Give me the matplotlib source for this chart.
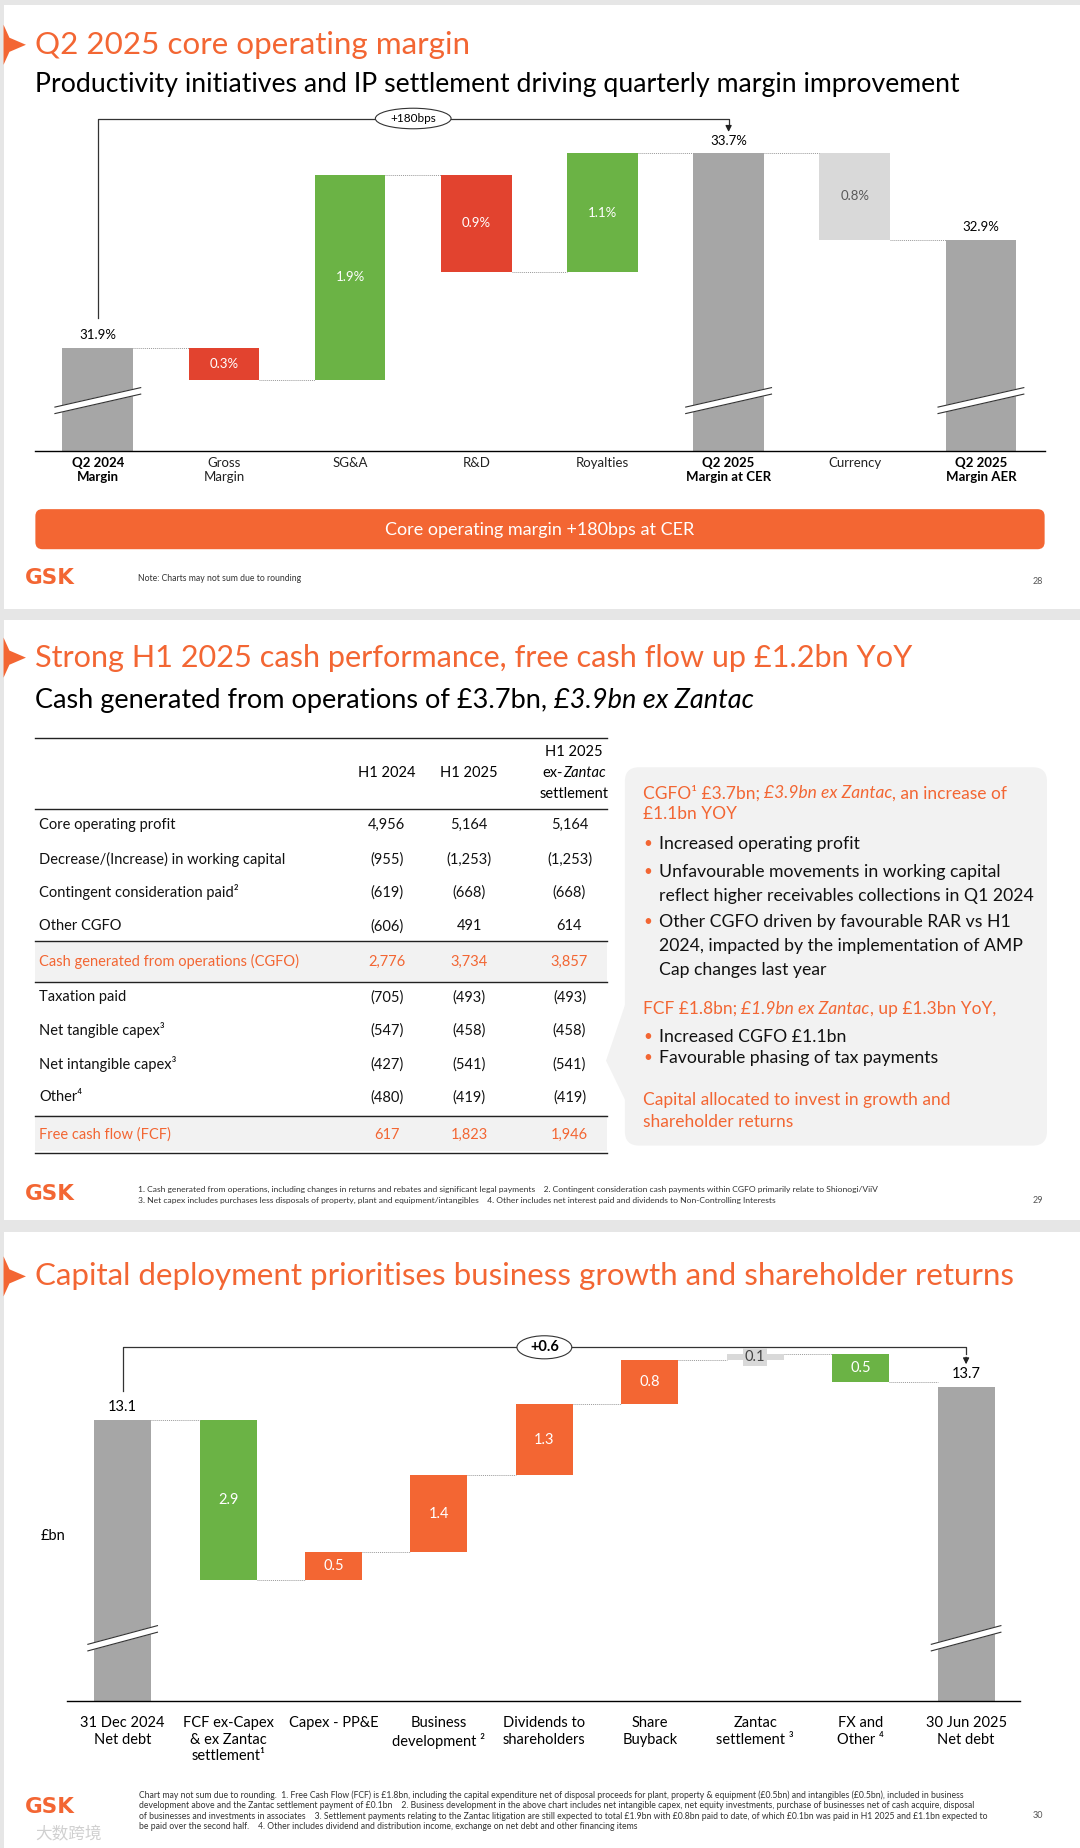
import matplotlib
matplotlib.use('Agg')
import matplotlib.pyplot as plt
from matplotlib.patches import Rectangle, FancyBboxPatch, Ellipse, Polygon
import numpy as np

plt.rcParams['font.family'] = ['Lato', 'DejaVu Sans']

# colores
NARANJA = '#F36633'
VERDE = '#6BB345'
ROJO = '#E2432F'
GRIS = '#A6A6A6'
GRIS_CLARO = '#D9D9D9'
FONDO = '#E6E6E6'

# Datos diapositiva 1: margen operativo
cats1 = ['Q2 2024\nMargin', 'Gross\nMargin', 'SG&A', 'R&D', 'Royalties',
         'Q2 2025\nMargin at CER', 'Currency', 'Q2 2025\nMargin AER']
vals1 = [31.9, -0.3, 1.9, -0.9, 1.1, 33.7, -0.8, 32.9]
tipo1 = ['total', 'neg', 'pos', 'neg', 'pos', 'total', 'fx', 'total']

# Datos diapositiva 2: tabla de caja
filas = ['Core operating profit', 'Decrease/(Increase) in working capital',
         'Contingent consideration paid²', 'Other CGFO',
         'Cash generated from operations (CGFO)', 'Taxation paid',
         'Net tangible capex³', 'Net intangible capex³', 'Other⁴',
         'Free cash flow (FCF)']
h1_2024 = ['4,956', '(955)', '(619)', '(606)', '2,776', '(705)', '(547)', '(427)', '(480)', '617']
h1_2025 = ['5,164', '(1,253)', '(668)', '491', '3,734', '(493)', '(458)', '(541)', '(419)', '1,823']
h1_2025_ex = ['5,164', '(1,253)', '(668)', '614', '3,857', '(493)', '(458)', '(541)', '(419)', '1,946']
filas_destacadas = [4, 9]

# Datos diapositiva 3: deuda neta
cats3 = ['31 Dec 2024\nNet debt', 'FCF ex-Capex\n& ex Zantac\nsettlement¹', 'Capex - PP&E',
         'Business\ndevelopment ²', 'Dividends to\nshareholders', 'Share\nBuyback',
         'Zantac\nsettlement ³', 'FX and\nOther ⁴', '30 Jun 2025\nNet debt']
vals3 = [13.1, -2.9, 0.5, 1.4, 1.3, 0.8, 0.1, -0.5, 13.7]
tipo3 = ['total', 'down', 'up', 'up', 'up', 'up', 'zantac', 'down', 'total']

W, H = 916, 1568
fig = plt.figure(figsize=(10.8, 18.48), dpi=100)
fig.patch.set_facecolor(FONDO)
bg = fig.add_axes([0, 0, 1, 1])
bg.set_xlim(0, W)
bg.set_ylim(H, 0)
bg.axis('off')
bg.patch.set_alpha(0)

for y0, y1 in [(4, 517), (526, 1035), (1045, 1568)]:
    bg.add_patch(Rectangle((3, y0), W - 3, y1 - y0, fc='white', ec='none'))

renderer = fig.canvas.get_renderer()


def ancho(t):
    return t.get_window_extent(renderer=renderer).width * W / fig.bbox.width


def texto_rico(x, y, partes, size, color):
    cx = x
    esp = bg.text(0, -100, 'x x', fontsize=size)
    sin = bg.text(0, -100, 'xx', fontsize=size)
    w_esp = ancho(esp) - ancho(sin)
    esp.remove()
    sin.remove()
    for s, estilo in partes:
        t = bg.text(cx, y, s.strip(), fontsize=size, color=color, style=estilo,
                    va='center', ha='left')
        cx += ancho(t)
        if s.endswith(' '):
            cx += w_esp


def marcador(y):
    bg.add_patch(Polygon([(3, y - 17), (8, y - 6), (22, y), (8, y + 6), (3, y + 17)],
                         closed=True, fc=NARANJA, ec='none'))


def logo(y):
    bg.text(21, y, 'GSK', fontsize=15.5, fontweight='heavy', color=NARANJA, va='center', ha='left',
            family=['DejaVu Sans'])


# ---------------- Diapositiva 1 ----------------
marcador(38)
bg.text(30, 38, 'Q2 2025 core operating margin', fontsize=22.6, color=NARANJA, va='center')
bg.text(30, 72, 'Productivity initiatives and IP settlement driving quarterly margin improvement',
        fontsize=19.2, color='black', va='center')

ax1 = fig.add_axes([30 / W, 1 - 383 / H, 856 / W, 293 / H])
ax1.patch.set_alpha(0)
ax1.set_xlim(-0.495, 7.505)
ax1.set_ylim(30.94, 34.135)
for s in ['top', 'right', 'left']:
    ax1.spines[s].set_visible(False)
ax1.spines['bottom'].set_linewidth(1)
ax1.set_yticks([])

ancho_barra = 0.56
nivel = 0
niveles = []
for i, (v, k) in enumerate(zip(vals1, tipo1)):
    if k == 'total':
        ax1.bar(i, v, width=ancho_barra, color=GRIS)
        ax1.text(i, v + 0.06, f'{v:.1f}%', ha='center', va='bottom', fontsize=9.5, color='black')
        nivel = v
    else:
        col = {'pos': VERDE, 'neg': ROJO, 'fx': GRIS_CLARO}[k]
        base = nivel + min(v, 0)
        ax1.bar(i, abs(v), bottom=base, width=ancho_barra, color=col)
        tc = '#595959' if k == 'fx' else 'white'
        ax1.text(i, base + abs(v) / 2, f'{abs(v):.1f}%', ha='center', va='center',
                 fontsize=9.5, color=tc)
        nivel = nivel + v
    niveles.append(nivel)

for i in range(len(vals1) - 1):
    ax1.plot([i + ancho_barra / 2, i + 1 - ancho_barra / 2], [niveles[i], niveles[i]],
             ls=(0, (1, 1)), color='#9a9a9a', lw=0.7)

# cortes en barras totales
for i, v in enumerate(vals1):
    if tipo1[i] == 'total':
        yb = 31.41
        xs = [i - 0.34, i + 0.34]
        ys = [yb - 0.09, yb + 0.09]
        ax1.plot(xs, ys, color='white', lw=5, solid_capstyle='butt', zorder=3)
        ax1.plot(xs, [y + 0.03 for y in ys], color='#333333', lw=0.8, zorder=4)
        ax1.plot(xs, [y - 0.03 for y in ys], color='#333333', lw=0.8, zorder=4)

# llave +180bps
ax1.plot([0, 0, 5, 5], [32.17, 34.02, 34.02, 33.95], color='#333333', lw=0.9, clip_on=False)
ax1.annotate('', xy=(5, 33.87), xytext=(5, 33.97),
             arrowprops=dict(arrowstyle='-|>', color='#222222', lw=0.9, mutation_scale=9),
             annotation_clip=False)
ax1.add_patch(Ellipse((2.5, 34.02), 0.6, 0.19, fc='white', ec='#333333', lw=0.8,
                      clip_on=False, zorder=5))
ax1.text(2.5, 34.02, '+180bps', ha='center', va='center', fontsize=8.5, zorder=6)

ax1.set_xticks(range(len(cats1)))
ax1.set_xticklabels(cats1, fontsize=9.5, color='#222222')
ax1.tick_params(axis='x', length=0, pad=4)
for i, lbl in enumerate(ax1.get_xticklabels()):
    if tipo1[i] == 'total':
        lbl.set_fontweight('bold')
        lbl.set_color('black')

bg.add_patch(FancyBboxPatch((30, 432), 856, 34, boxstyle='round,pad=0,rounding_size=6',
                            fc=NARANJA, ec='none'))
bg.text(458, 450, 'Core operating margin +180bps at CER', fontsize=13, color='white',
        ha='center', va='center')
logo(490)
bg.text(117, 491, 'Note: Charts may not sum due to rounding', fontsize=6.2, color='#333333', va='center')
bg.text(880, 493, '28', fontsize=6.5, color='#555555', va='center', ha='center')

# ---------------- Diapositiva 2 ----------------
marcador(558)
bg.text(30, 558, 'Strong H1 2025 cash performance, free cash flow up £1.2bn YoY',
        fontsize=22.1, color=NARANJA, va='center')
texto_rico(30, 594, [('Cash generated from operations of £3.7bn, ', 'normal'),
                     ('£3.9bn ex Zantac', 'italic')], 19.5, 'black')

for i in filas_destacadas:
    yc = [816, 963][filas_destacadas.index(i)]
    bg.add_patch(Rectangle((30, yc - 17), 485, 34 if i == 4 else 31, fc='#F2F2F2', ec='none'))
for yr in [626, 686, 798, 833, 947, 978]:
    bg.plot([30, 515], [yr, yr], color='#222222', lw=1.0)

bg.text(328, 656, 'H1 2024', fontsize=10.5, ha='center', va='center')
bg.text(398, 656, 'H1 2025', fontsize=10.5, ha='center', va='center')
bg.text(487, 638, 'H1 2025', fontsize=10.5, ha='center', va='center')
texto_rico(460, 656, [('ex-', 'normal'), ('Zantac', 'italic')], 10.5, 'black')
bg.text(487, 674, 'settlement', fontsize=10.5, ha='center', va='center')

fila_y = [700, 729, 757, 786, 816, 846, 874, 903, 931, 963]
for i, nombre in enumerate(filas):
    col = NARANJA if i in filas_destacadas else '#111111'
    bg.text(33, fila_y[i], nombre, fontsize=10.5, color=col, va='center')
    bg.text(328, fila_y[i], h1_2024[i], fontsize=10.5, color=col, va='center', ha='center')
    bg.text(398, fila_y[i], h1_2025[i], fontsize=10.5, color=col, va='center', ha='center')
    bg.text(483, fila_y[i], h1_2025_ex[i], fontsize=10.5, color=col, va='center', ha='center')

bg.add_patch(Polygon([(531, 850), (514, 900), (531, 935)], closed=True, fc='#F2F2F2', ec='none'))
bg.add_patch(FancyBboxPatch((530, 651), 358, 321, boxstyle='round,pad=0,rounding_size=12',
                            fc='#F2F2F2', ec='none'))
texto_rico(545, 673, [('CGFO¹ £3.7bn; ', 'normal'), ('£3.9bn ex Zantac', 'italic'),
                      (', an increase of', 'normal')], 12.5, NARANJA)
bg.text(545, 691, '£1.1bn YOY', fontsize=12.5, color=NARANJA, va='center')


def vineta(y, lineas):
    bg.text(546, y, '•', fontsize=11, color=NARANJA, va='center')
    for j, l in enumerate(lineas):
        bg.text(559, y + j * 20.5, l, fontsize=12.7, color='#111111', va='center')


vineta(716, ['Increased operating profit'])
vineta(740, ['Unfavourable movements in working capital',
             'reflect higher receivables collections in Q1 2024'])
vineta(782, ['Other CGFO driven by favourable RAR vs H1',
             '2024, impacted by the implementation of AMP',
             'Cap changes last year'])
texto_rico(545, 856, [('FCF £1.8bn; ', 'normal'), ('£1.9bn ex Zantac', 'italic'),
                      (', up £1.3bn YoY,', 'normal')], 12.5, NARANJA)
vineta(880, ['Increased CGFO £1.1bn'])
vineta(898, ['Favourable phasing of tax payments'])
bg.text(545, 933, 'Capital allocated to invest in growth and', fontsize=12.5, color=NARANJA, va='center')
bg.text(545, 952, 'shareholder returns', fontsize=12.5, color=NARANJA, va='center')

logo(1013)
bg.text(117, 1009, '1. Cash generated from operations, including changes in returns and rebates and significant '
        'legal payments    2. Contingent consideration cash payments within CGFO primarily relate to Shionogi/ViiV',
        fontsize=6.1, color='#333333', va='center')
bg.text(117, 1019, '3. Net capex includes purchases less disposals of property, plant and equipment/intangibles'
        '    4. Other includes net interest paid and dividends to Non-Controlling Interests',
        fontsize=6.1, color='#333333', va='center')
bg.text(880, 1019, '29', fontsize=6.5, color='#555555', va='center', ha='center')

# ---------------- Diapositiva 3 ----------------
marcador(1083)
bg.text(30, 1083, 'Capital deployment prioritises business growth and shareholder returns',
        fontsize=22.5, color=NARANJA, va='center')
bg.text(45, 1303, '£bn', fontsize=10.5, color='black', va='center', ha='center')

ax3 = fig.add_axes([57 / W, 1 - 1443 / H, 808 / W, 318 / H])
ax3.patch.set_alpha(0)
ax3.set_xlim(-0.526, 8.51)
ax3.set_ylim(7.993, 14.82)
for s in ['top', 'right', 'left']:
    ax3.spines[s].set_visible(False)
ax3.spines['bottom'].set_linewidth(1)
ax3.set_yticks([])

ancho3 = 0.54
nivel = 0
niveles3 = []
for i, (v, k) in enumerate(zip(vals3, tipo3)):
    if k == 'total':
        ax3.bar(i, v, width=ancho3, color=GRIS)
        ax3.text(i, v + 0.12, f'{v:.1f}', ha='center', va='bottom', fontsize=10.5, color='black')
        nivel = v
    else:
        col = {'up': NARANJA, 'down': VERDE, 'zantac': GRIS_CLARO}[k]
        base = nivel + min(v, 0)
        ax3.bar(i, abs(v), bottom=base, width=ancho3, color=col)
        if k == 'zantac':
            ax3.text(i, base + abs(v) / 2, f'{abs(v):.1f}', ha='center', va='center', fontsize=10.5,
                     color='#444444',
                     bbox=dict(boxstyle='square,pad=0.12', fc=GRIS_CLARO, ec='none'))
        else:
            ax3.text(i, base + abs(v) / 2, f'{abs(v):.1f}', ha='center', va='center',
                     fontsize=10.5, color='white')
        nivel = nivel + v
    niveles3.append(nivel)

for i in range(len(vals3) - 1):
    ax3.plot([i + ancho3 / 2, i + 1 - ancho3 / 2], [niveles3[i], niveles3[i]],
             ls=(0, (1, 1)), color='#9a9a9a', lw=0.7)

for i, v in enumerate(vals3):
    if tipo3[i] == 'total':
        yb = 9.13
        xs = [i - 0.33, i + 0.33]
        ys = [yb - 0.17, yb + 0.17]
        ax3.plot(xs, ys, color='white', lw=5, solid_capstyle='butt', zorder=3)
        ax3.plot(xs, [y + 0.06 for y in ys], color='#333333', lw=0.8, zorder=4)
        ax3.plot(xs, [y - 0.06 for y in ys], color='#333333', lw=0.8, zorder=4)

ax3.plot([0, 0, 8, 8], [13.64, 14.43, 14.43, 14.3], color='#333333', lw=0.9, clip_on=False)
ax3.annotate('', xy=(8, 14.07), xytext=(8, 14.3),
             arrowprops=dict(arrowstyle='-|>', color='#222222', lw=0.9, mutation_scale=9),
             annotation_clip=False)
ax3.add_patch(Ellipse((4, 14.43), 0.52, 0.42, fc='white', ec='#333333', lw=0.8,
                      clip_on=False, zorder=5))
ax3.text(4, 14.43, '+0.6', ha='center', va='center', fontsize=10.5, fontweight='bold', zorder=6)

ax3.set_xticks(range(len(cats3)))
ax3.set_xticklabels(cats3, fontsize=10.5, color='black', linespacing=1.25)
ax3.tick_params(axis='x', length=0, pad=11)

logo(1533)
notas3 = [
    'Chart may not sum due to rounding.  1. Free Cash Flow (FCF) is £1.8bn, including the capital expenditure net of disposal proceeds for plant, property & equipment (£0.5bn) and intangibles (£0.5bn), included in business',
    'development above and the Zantac settlement payment of £0.1bn    2. Business development in the above chart includes net intangible capex, net equity investments, purchase of businesses net of cash acquire, disposal',
    'of businesses and investments in associates    3. Settlement payments relating to the Zantac litigation are still expected to total £1.9bn with £0.8bn paid to date, of which £0.1bn was paid in H1 2025 and £1.1bn expected to',
    'be paid over the second half.    4. Other includes dividend and distribution income, exchange on net debt and other financing items',
]
for j, n in enumerate(notas3):
    bg.text(118, 1523 + j * 9, n, fontsize=6.2, color='#333333', va='center')
bg.text(880, 1540, '30', fontsize=6.5, color='#555555', va='center', ha='center')
bg.text(30, 1557, '大数跨境', fontsize=12, color='#d0d0d0', va='center',
        family=['Noto Sans CJK SC', 'DejaVu Sans'])

fig.savefig('out.png', dpi=100, facecolor=FONDO)
